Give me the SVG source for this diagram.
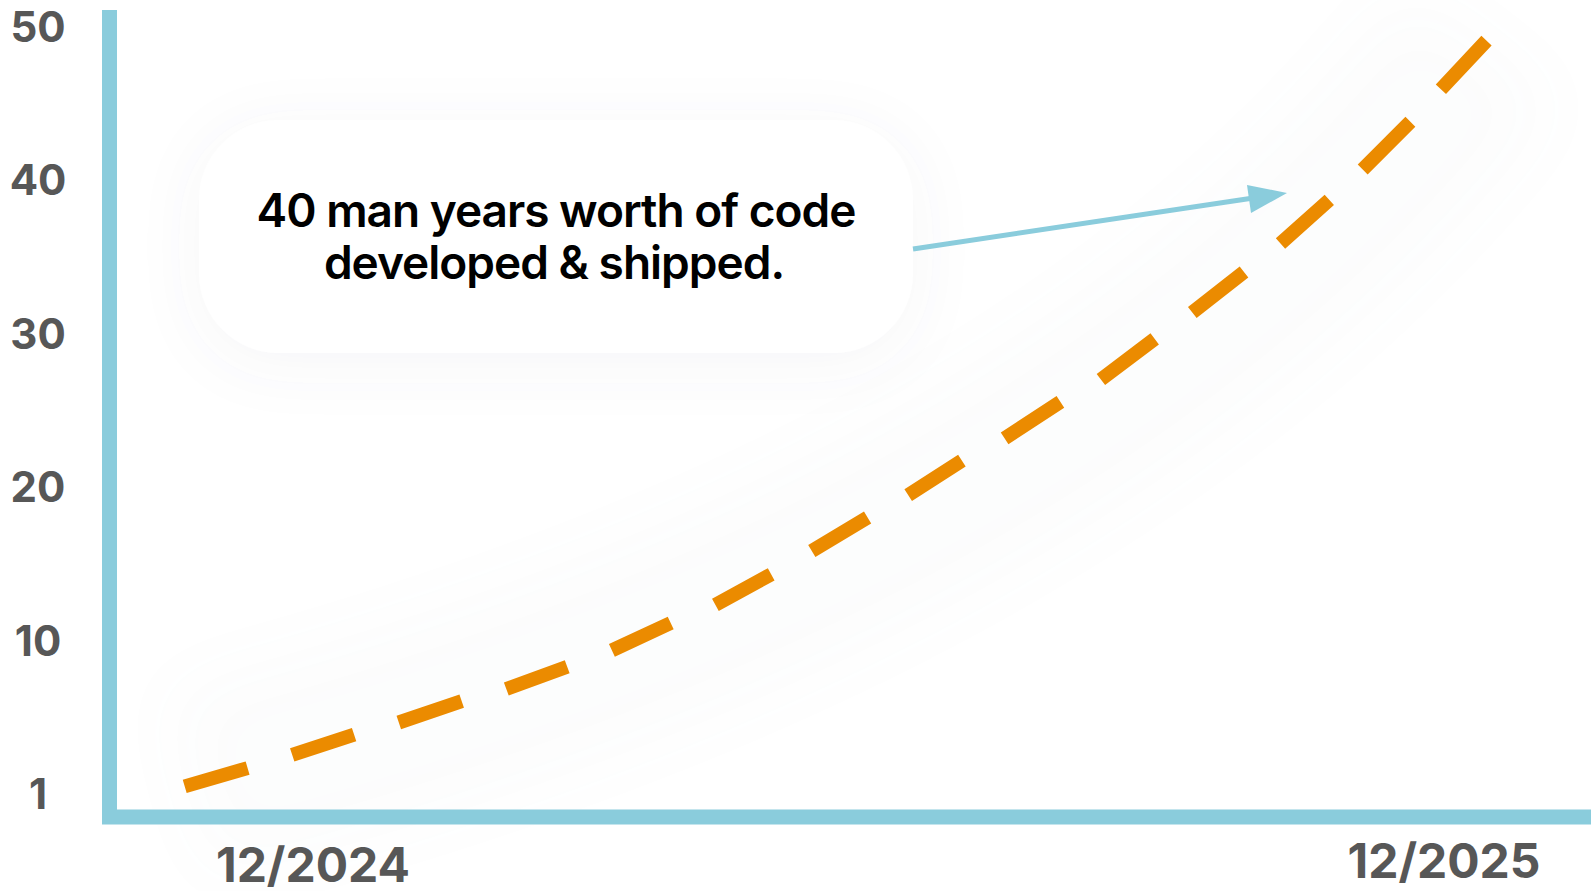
<svg xmlns="http://www.w3.org/2000/svg" width="1591" height="891" viewBox="0 0 1591 891">
<style>
.ax{fill:none;stroke:#8ACCDC;stroke-width:15}
.lbl{font-family:Inter,"Liberation Sans",sans-serif;font-weight:700;fill:#575757;text-anchor:middle}
.yl{font-size:42px}
.xl{font-size:48px}
.note{font-family:Inter,"Liberation Sans",sans-serif;font-weight:600;font-size:46px;letter-spacing:-1px;fill:#000;text-anchor:middle}
.curve{fill:none;stroke:#EB8B00;stroke-width:14;stroke-linecap:butt}
</style>
<defs>
<filter id="boxShadow" x="-30%" y="-50%" width="160%" height="200%">
<feDropShadow dx="0" dy="10" stdDeviation="30" flood-color="#5a6f78" flood-opacity="0.06"/>
</filter>
<filter id="softBlur" x="-20%" y="-20%" width="140%" height="140%">
<feGaussianBlur stdDeviation="40"/>
</filter>
</defs>
<rect width="1591" height="891" fill="#FFFFFF"/>
<g id="curve-shadow" opacity="0.018" filter="url(#softBlur)">
<path d="M185,786 C600,680 1150,480 1486,40" fill="none" stroke="#7a8a90" stroke-width="200"/>
</g>
<g id="axes">
<path class="ax" d="M109.5,10 L109.5,817 L1591,817"/>
</g>
<g id="y-labels">
<text class="lbl yl" x="38" y="42">50</text>
<text class="lbl yl" x="38" y="195">40</text>
<text class="lbl yl" x="38" y="349">30</text>
<text class="lbl yl" x="38" y="502">20</text>
<text class="lbl yl" x="38" y="656">10</text>
<text class="lbl yl" x="38" y="809">1</text>
</g>
<g id="x-labels">
<text class="lbl xl" x="313" y="882">12/2024</text>
<text class="lbl xl" x="1444" y="878">12/2025</text>
</g>
<g id="growth-curve">
<path class="curve" d="M184.7,786.4 L247.6,768.1 M292.2,754.9 L354.1,734.6 M398.8,722.5 L461.7,701.1 M506.3,689 L567.2,666.7 M611.9,650.4 L670.7,623 M715.4,604.8 L771.2,574.3 M811.8,551 L867.6,517.5 M908.2,495.2 L961.9,460.7 M1004.6,438.3 L1060.4,401.8 M1100.9,379.5 L1154.7,338.9 M1192.3,312.5 L1244,271.9 M1280.5,243.5 L1329.3,199.9 M1362.7,169.5 L1410.4,121.8 M1440.9,89.3 L1486.5,40.6"/>
</g>
<g id="annotation">
<rect x="199" y="120" width="714" height="233" rx="80" ry="80" fill="#FFFFFF" filter="url(#boxShadow)"/>
<text class="note" x="556" y="227">40 man years worth of code</text>
<text class="note" x="554" y="279">developed &amp; shipped.</text>
</g>
<g id="connectors">
<path d="M913,249 L1250,198.5" fill="none" stroke="#8ACCDC" stroke-width="5"/>
<path d="M1287,193 L1247,185 L1251,213 Z" fill="#8ACCDC"/>
</g>
</svg>
